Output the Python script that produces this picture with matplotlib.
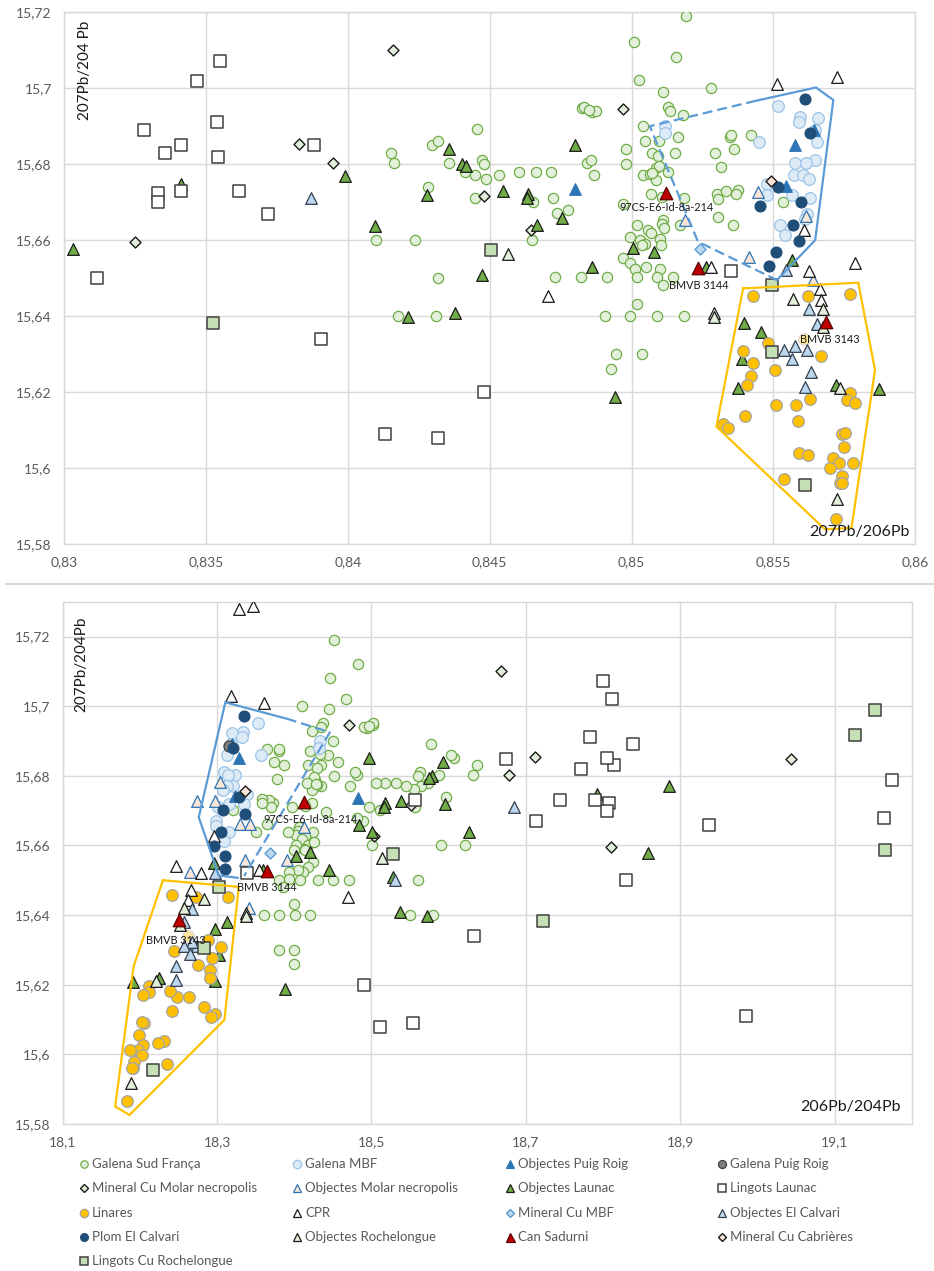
import numpy as np
import matplotlib
matplotlib.use("Agg")
import matplotlib.pyplot as plt

plt.rcParams['font.family'] = ['Lato', 'DejaVu Sans']

# ---------------- data: (207Pb/206Pb, 207Pb/204Pb) ----------------
galena_sud = [
    (0.84151, 15.6830), (0.84161, 15.6802), (0.84100, 15.6600), (0.84236, 15.6600), (0.84318, 15.6500),
    (0.84295, 15.6850), (0.84318, 15.6861), (0.84357, 15.6802), (0.84283, 15.6740), (0.84411, 15.6780),
    (0.84175, 15.6400), (0.84310, 15.6400),
    (0.85193, 15.7191), (0.85010, 15.7121), (0.85156, 15.7081), (0.85026, 15.7021), (0.85112, 15.6991), (0.85279, 15.7001),
    (0.84824, 15.6947), (0.84831, 15.6951), (0.84859, 15.6938), (0.84875, 15.6940), (0.84850, 15.6942),
    (0.85127, 15.6951), (0.85134, 15.6940), (0.85181, 15.6930),
    (0.84454, 15.6892), (0.85039, 15.6900), (0.85047, 15.6861), (0.85096, 15.6862), (0.85162, 15.6871),
    (0.84980, 15.6840), (0.85154, 15.6830), (0.85072, 15.6830), (0.84980, 15.6800), (0.85094, 15.6822),
    (0.85293, 15.6830), (0.85346, 15.6872), (0.85352, 15.6878), (0.85362, 15.6841), (0.85422, 15.6877), (0.85316, 15.6792),
    (0.84844, 15.6802), (0.84858, 15.6811), (0.84867, 15.6771),
    (0.84474, 15.6811), (0.84481, 15.6800), (0.84449, 15.6771), (0.84485, 15.6761), (0.84534, 15.6771),
    (0.84664, 15.6780), (0.84716, 15.6780), (0.84602, 15.6780),
    (0.84449, 15.6710), (0.84652, 15.6701), (0.84722, 15.6710), (0.84738, 15.6671), (0.84775, 15.6679), (0.84648, 15.6600),
    (0.85040, 15.6771), (0.85066, 15.6773), (0.85087, 15.6789), (0.85096, 15.6796), (0.85087, 15.6758), (0.85128, 15.6780), (0.85073, 15.6776),
    (0.85067, 15.6721), (0.85107, 15.6714), (0.85184, 15.6711),
    (0.85301, 15.6721), (0.85334, 15.6730), (0.85375, 15.6732), (0.85305, 15.6709), (0.85367, 15.6721),
    (0.85534, 15.6701), (0.85306, 15.6661), (0.85359, 15.6639),
    (0.85111, 15.6654), (0.85107, 15.6642), (0.85113, 15.6631), (0.85169, 15.6640), (0.85019, 15.6640),
    (0.85058, 15.6628), (0.85070, 15.6618), (0.85028, 15.6600), (0.85046, 15.6591), (0.84993, 15.6609),
    (0.85099, 15.6602), (0.85105, 15.6587), (0.85037, 15.6587),
    (0.84969, 15.6552), (0.84995, 15.6539), (0.85013, 15.6525), (0.85049, 15.6530), (0.85099, 15.6523),
    (0.85090, 15.6503), (0.85146, 15.6502), (0.85019, 15.6502), (0.85111, 15.6482),
    (0.84731, 15.6502), (0.84822, 15.6502), (0.84914, 15.6502),
    (0.84905, 15.6400), (0.84996, 15.6400), (0.85090, 15.6400), (0.85183, 15.6400), (0.85020, 15.6431),
    (0.84946, 15.6300), (0.85036, 15.6300), (0.84928, 15.6260), (0.84969, 15.6695),
]
galena_mbf = [
    (0.85517, 15.6953), (0.85594, 15.6925), (0.85658, 15.6923), (0.85591, 15.6912), (0.85647, 15.6890),
    (0.85653, 15.6859), (0.85450, 15.6859), (0.85116, 15.6900), (0.85116, 15.6881), (0.85647, 15.6811),
    (0.85576, 15.6802), (0.85615, 15.6802), (0.85572, 15.6771), (0.85605, 15.6771), (0.85626, 15.6760),
    (0.85476, 15.6748), (0.85476, 15.6719), (0.85564, 15.6719), (0.85629, 15.6710), (0.85617, 15.6670),
    (0.85610, 15.6657), (0.85523, 15.6639), (0.85541, 15.6613),
]
objectes_puig_roig = [(0.84800, 15.6735), (0.85576, 15.6850), (0.85643, 15.6890), (0.85544, 15.6742)]
objectes_molar = [(0.85447, 15.6727), (0.85187, 15.6653), (0.85615, 15.6663), (0.85415, 15.6556), (0.85641, 15.6495)]
mineral_cu_molar = [
    (0.83250, 15.6596), (0.83828, 15.6853), (0.83947, 15.6802), (0.84158, 15.7100),
    (0.84478, 15.6716), (0.84968, 15.6945), (0.84646, 15.6626),
]
objectes_launac = [
    (0.83030, 15.6578), (0.83410, 15.6749), (0.84096, 15.6638), (0.84278, 15.6719),
    (0.84357, 15.6839), (0.84401, 15.6800), (0.84416, 15.6795), (0.84213, 15.6398), (0.84376, 15.6409),
    (0.84800, 15.6850), (0.84546, 15.6729), (0.84636, 15.6721), (0.84632, 15.6710), (0.84754, 15.6658),
    (0.84667, 15.6639), (0.84471, 15.6508), (0.84862, 15.6530), (0.85005, 15.6580), (0.85079, 15.6569),
    (0.85261, 15.6530), (0.85566, 15.6549), (0.84942, 15.6188), (0.85395, 15.6381), (0.85455, 15.6359),
    (0.85390, 15.6286), (0.85376, 15.6210), (0.85720, 15.6219), (0.85873, 15.6208),
]
lingots_launac = [
    (0.83114, 15.6501), (0.83280, 15.6890), (0.83355, 15.6830), (0.83410, 15.6850), (0.83330, 15.6723),
    (0.83330, 15.6700), (0.83410, 15.6730), (0.83469, 15.7020), (0.83549, 15.7071), (0.83540, 15.6910),
    (0.83543, 15.6820), (0.83617, 15.6730), (0.83719, 15.6670), (0.83906, 15.6339),
    (0.84130, 15.6089), (0.84317, 15.6078), (0.84478, 15.6200), (0.85350, 15.6520),
]
linares = [
    (0.85427, 15.6453), (0.85620, 15.6453), (0.85770, 15.6458), (0.85481, 15.6328), (0.85391, 15.6308),
    (0.85428, 15.6277), (0.85505, 15.6258), (0.85420, 15.6242), (0.85407, 15.6219), (0.85669, 15.6296),
    (0.85508, 15.6166), (0.85581, 15.6166), (0.85628, 15.6181), (0.85769, 15.6197), (0.85758, 15.6179),
    (0.85789, 15.6170), (0.85399, 15.6137), (0.85585, 15.6125), (0.85322, 15.6116), (0.85341, 15.6106),
    (0.85740, 15.6090), (0.85752, 15.6092), (0.85749, 15.6056), (0.85589, 15.6039), (0.85620, 15.6034),
    (0.85711, 15.6026), (0.85731, 15.6013), (0.85699, 15.5999), (0.85779, 15.6013), (0.85740, 15.5979),
    (0.85734, 15.5960), (0.85743, 15.5960), (0.85536, 15.5971), (0.85720, 15.5865),
]
linares_faded = [(0.85608, 15.6341)]
cpr = [
    (0.85514, 15.7010), (0.85724, 15.7029), (0.85608, 15.6628), (0.85281, 15.6530), (0.85625, 15.6520),
    (0.85788, 15.6540), (0.84705, 15.6452), (0.85291, 15.6407), (0.85664, 15.6471), (0.85666, 15.6442),
]
mineral_cu_mbf = [(0.85242, 15.6578)]
objectes_el_calvari = [
    (0.83870, 15.6710), (0.85544, 15.6521), (0.85536, 15.6311), (0.85576, 15.6322), (0.85618, 15.6311),
    (0.85566, 15.6287), (0.85632, 15.6254), (0.85610, 15.6214), (0.85625, 15.6418), (0.85654, 15.6380),
]
plom_el_calvari = [
    (0.85612, 15.6971), (0.85629, 15.6881), (0.85517, 15.6740), (0.85453, 15.6690), (0.85596, 15.6701),
    (0.85570, 15.6639), (0.85591, 15.6598), (0.85509, 15.6569), (0.85486, 15.6531),
]
objectes_rochelongue = [
    (0.84564, 15.6563), (0.85570, 15.6446), (0.85674, 15.6420), (0.85675, 15.6372),
    (0.85734, 15.6210), (0.85725, 15.5918), (0.85291, 15.6398),
]
can_sadurni = [(0.85120, 15.6725), (0.85235, 15.6527), (0.85685, 15.6385)]
mineral_cu_cabrieres = [(0.85490, 15.6755)]
lingots_cu_rochelongue = [(0.83525, 15.6383), (0.84505, 15.6574), (0.85495, 15.6482), (0.85495, 15.6306), (0.85611, 15.5956)]

# points that show only in the upper panel: (207Pb/206Pb, 207Pb/204Pb)
objectes_launac_upper_only = [(0.83988, 15.6769)]
lingots_launac_upper_only = [(0.83880, 15.6850)]

# points that show only in the lower panel: (206Pb/204Pb, 207Pb/204Pb)
lingots_launac_lower_only = [(19.174, 15.6789), (19.164, 15.6680), (18.985, 15.6110), (18.938, 15.6660),
                             (18.557, 15.6730), (18.675, 15.6849)]
mineral_cu_molar_lower_only = [(19.044, 15.6848)]
objectes_launac_lower_only = [(18.886, 15.6770)]
cpr_lower_only = [(18.329, 15.7278), (18.346, 15.7289)]
lingots_cu_rochelongue_lower_only = [(19.152, 15.6990), (19.127, 15.6918), (19.166, 15.6586)]
galena_puig_roig_lower_only = [(18.316, 15.6887)]
objectes_el_calvari_lower_only = [(18.531, 15.6500)]
# Objectes Molar necropolis (206Pb/204Pb, 207Pb/204Pb)
objectes_molar_lower = [
    (18.3043, 15.6781), (18.2742, 15.6728), (18.2978, 15.6728), (18.3300, 15.6661), (18.3430, 15.6661),
    (18.4126, 15.6652), (18.3903, 15.6557), (18.3365, 15.6557), (18.2655, 15.6523), (18.3408, 15.6421),
]

# hand-drawn envelopes
blue_upper_solid = [(0.85438, 15.6967), (0.85650, 15.7002), (0.85711, 15.6969), (0.85647, 15.6600), (0.85512, 15.6495)]
blue_upper_dashed = [(0.85438, 15.6967), (0.85064, 15.6900), (0.85234, 15.6596), (0.85512, 15.6495)]
gold_upper = [(0.85393, 15.6473), (0.85799, 15.6488), (0.85858, 15.6258), (0.85775, 15.5842),
              (0.85681, 15.5839), (0.85299, 15.6109), (0.85393, 15.6473)]
blue_lower_solid = [(18.3267, 15.6507), (18.3021, 15.6514), (18.2763, 15.6681), (18.3107, 15.7011), (18.3903, 15.6964)]
blue_lower_dashed = [(18.3903, 15.6964), (18.4462, 15.6925), (18.3350, 15.6512)]
gold_lower = [(18.2299, 15.6500), (18.3281, 15.6481), (18.3095, 15.6099), (18.1866, 15.5826),
              (18.1680, 15.5850), (18.1918, 15.6252), (18.2299, 15.6500)]

labels_upper = [("97CS-E6-Id-8a-214", 0.85124, 15.6686), ("BMVB 3144", 0.85238, 15.6481), ("BMVB 3143", 0.85697, 15.6338)]
labels_lower = [("97CS-E6-Id-8a-214", 18.4214, 15.6674), ("BMVB 3144", 18.3639, 15.6480), ("BMVB 3143", 18.2462, 15.6328)]

upper_xticks = [0.83, 0.835, 0.84, 0.845, 0.85, 0.855, 0.86]
upper_yticks = [15.58, 15.60, 15.62, 15.64, 15.66, 15.68, 15.70, 15.72]
lower_xticks = [18.1, 18.3, 18.5, 18.7, 18.9, 19.1]
lower_yticks = [15.58, 15.60, 15.62, 15.64, 15.66, 15.68, 15.70, 15.72]

# ---------------- series table (legend order = drawing order) ----------------
# name, upper pts, upper-only, lower-only, explicit lower (or None), marker, size, face, edge, lw
series = [
    ("Galena Sud França", galena_sud, [], [], None, 'o', 7.4, '#E2EFDA', '#70AD47', 0.9),
    ("Galena MBF", galena_mbf, [], [], None, 'o', 8.4, '#DDEBF7', '#9DC3E6', 0.9),
    ("Objectes Puig Roig", objectes_puig_roig, [], [], None, '^', 8.4, '#2E75B6', '#2E75B6', 0.8),
    ("Galena Puig Roig", [], [], galena_puig_roig_lower_only, None, 'o', 8.0, '#808080', '#404040', 0.9),
    ("Mineral Cu Molar necropolis", mineral_cu_molar, [], mineral_cu_molar_lower_only, None, 'D', 5.6, '#E2EFDA', '#1A1A1A', 1.0),
    ("Objectes Molar necropolis", objectes_molar, [], [], objectes_molar_lower, '^', 8.4, '#FBE5D6', '#2E75B6', 0.9),
    ("Objectes Launac", objectes_launac, objectes_launac_upper_only, objectes_launac_lower_only, None, '^', 8.4, '#70AD47', '#1A1A1A', 0.9),
    ("Lingots Launac", lingots_launac, lingots_launac_upper_only, lingots_launac_lower_only, None, 's', 8.0, '#FFFFFF', '#404040', 1.1),
    ("Linares", linares, [], [], None, 'o', 8.4, '#FFC000', '#A5A5A5', 0.9),
    ("CPR", cpr, [], cpr_lower_only, None, '^', 8.4, '#FFFFFF', '#1A1A1A', 0.9),
    ("Mineral Cu MBF", mineral_cu_mbf, [], [], None, 'D', 5.6, '#BDD7EE', '#5B9BD5', 1.0),
    ("Objectes El Calvari", objectes_el_calvari, [], objectes_el_calvari_lower_only, None, '^', 8.4, '#BDD7EE', '#333F50', 0.9),
    ("Plom El Calvari", plom_el_calvari, [], [], None, 'o', 7.8, '#1F4E79', '#1F4E79', 0.9),
    ("Objectes Rochelongue", objectes_rochelongue, [], [], None, '^', 8.4, '#E2EFDA', '#1A1A1A', 0.9),
    ("Can Sadurni", can_sadurni, [], [], None, '^', 9.0, '#C00000', '#5A0000', 0.9),
    ("Mineral Cu Cabrières", mineral_cu_cabrieres, [], [], None, 'D', 5.6, '#FBE5D6', '#1A1A1A', 1.0),
    ("Lingots Cu Rochelongue", lingots_cu_rochelongue, [], lingots_cu_rochelongue_lower_only, None, 's', 8.0, '#C5E0B4', '#404040', 1.1),
]

W, H = 934, 1271
fig = plt.figure(figsize=(W / 100, H / 100), dpi=100)

GRID = '#D9D9D9'
TICK = '#595959'


def fmt(v):
    return f"{round(v, 4):g}".replace('.', ',')


def style_axes(ax, xt, yt, xlim, ylim):
    ax.set_xlim(*xlim)
    ax.set_ylim(*ylim)
    ax.set_xticks(xt)
    ax.set_yticks(yt)
    ax.set_xticklabels([fmt(v) for v in xt])
    ax.set_yticklabels([fmt(v) for v in yt])
    ax.tick_params(length=0, labelsize=10, colors=TICK, pad=9)
    ax.grid(True, color=GRID, lw=1.0, zorder=0)
    ax.set_axisbelow(True)
    for s in ax.spines.values():
        s.set_color(GRID)
        s.set_linewidth(1.0)


def rect(px_l, px_t, px_r, px_b):
    return [px_l / W, 1 - px_b / H, (px_r - px_l) / W, (px_b - px_t) / H]


def xs(pts):
    return np.array([p[0] for p in pts], dtype=float)


def ys(pts):
    return np.array([p[1] for p in pts], dtype=float)


ax1 = fig.add_axes(rect(64.3, 12.3, 915.3, 544.0))
ax2 = fig.add_axes(rect(62.7, 601.7, 911.7, 1124.0))
style_axes(ax1, upper_xticks, upper_yticks, (0.83, 0.86), (15.58, 15.72))
style_axes(ax2, lower_xticks, lower_yticks, (18.1, 19.2), (15.58, 15.73))

for z, (name, pts, up_only, low_only, low_explicit, mk, ms, fc, ec, lw) in enumerate(series):
    kw = dict(marker=mk, s=ms ** 2, facecolor=fc, edgecolor=ec, linewidths=lw, zorder=3 + z)
    allup = list(pts) + list(up_only)
    ax1.scatter(xs(allup), ys(allup), **kw)
    if low_explicit is not None:
        lx, ly = xs(low_explicit), ys(low_explicit)
    else:
        # 206Pb/204Pb = (207Pb/204Pb) / (207Pb/206Pb)
        lx = np.concatenate([ys(pts) / xs(pts) if len(pts) else np.array([]), xs(low_only)])
        ly = np.concatenate([ys(pts), ys(low_only)])
    ax2.scatter(lx, ly, **kw)

fx, fy = xs(linares_faded), ys(linares_faded)
for ax, xx in ((ax1, fx), (ax2, fy / fx)):
    ax.scatter(xx, fy, marker='o', s=8.4 ** 2, facecolor='#FFE699', edgecolor='#D9D9D9', linewidths=0.9, zorder=12)


def draw_line(ax, pts, color, dashed=False):
    ln, = ax.plot(xs(pts), ys(pts), color=color, lw=1.6, zorder=40, solid_joinstyle='miter')
    if dashed:
        ln.set_dashes([4.5, 2.2])


draw_line(ax1, blue_upper_solid, '#5B9BD5')
draw_line(ax1, blue_upper_dashed, '#5B9BD5', dashed=True)
draw_line(ax1, gold_upper, '#FFC000')
draw_line(ax2, blue_lower_solid, '#5B9BD5')
draw_line(ax2, blue_lower_dashed, '#5B9BD5', dashed=True)
draw_line(ax2, gold_lower, '#FFC000')

for ax, labs in ((ax1, labels_upper), (ax2, labels_lower)):
    for t, x, y in labs:
        ax.text(x, y, t, fontsize=7.8, color='#1A1A1A', ha='center', va='center', zorder=50)

# axis titles
ax1.text(0.0243, 0.985, "207Pb/204 Pb", transform=ax1.transAxes, rotation=90, ha='center', va='top',
         fontsize=11, color='#1A1A1A', zorder=60)
ax1.text(0.9938, 0.0231, "207Pb/206Pb", transform=ax1.transAxes, ha='right', va='center',
         fontsize=11.5, color='#1A1A1A', zorder=60)
ax2.text(0.0224, 0.971, "207Pb/204Pb", transform=ax2.transAxes, rotation=90, ha='center', va='top',
         fontsize=11, color='#1A1A1A', zorder=60)
ax2.text(0.987, 0.032, "206Pb/204Pb", transform=ax2.transAxes, ha='right', va='center',
         fontsize=11.5, color='#1A1A1A', zorder=60)

# overlay for separator and legend
ov = fig.add_axes([0, 0, 1, 1], zorder=-5)
ov.set_xlim(0, W)
ov.set_ylim(H, 0)
ov.axis('off')
ov.plot([6, W], [583.5, 583.5], color=GRID, lw=1.6)

col_x = [84, 297, 510, 722]
for i, (name, pts, up_only, low_only, low_explicit, mk, ms, fc, ec, lw) in enumerate(series):
    r, c = divmod(i, 4)
    x = col_x[c]
    y = 1164 + r * 24.3
    ov.plot([x], [y], marker=mk, ms=ms * 0.72, markerfacecolor=fc, markeredgecolor=ec, markeredgewidth=lw, ls='none')
    ov.text(x + 8, y, name, fontsize=9.5, color=TICK, va='center', ha='left')

fig.savefig('out.png', dpi=100)
